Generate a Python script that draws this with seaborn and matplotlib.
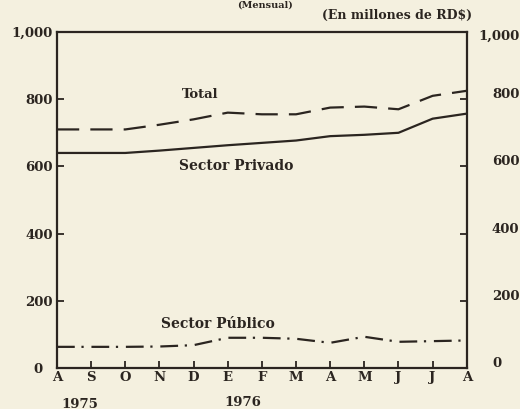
import numpy as np
import pandas as pd
import seaborn as sns
import matplotlib.pyplot as plt
from matplotlib.transforms import ScaledTranslation

# Datos mensuales (millones de RD$), agosto 1975 - agosto 1976
meses = ["A", "S", "O", "N", "D", "E", "F", "M", "A", "M", "J", "J", "A"]
total = [710, 710, 710, 724, 740, 760, 755, 755, 775, 778, 770, 810, 825]
privado = [640, 640, 640, 647, 655, 663, 670, 677, 690, 694, 700, 742, 757]
publico = [63, 63, 63, 64, 68, 90, 90, 87, 75, 93, 78, 80, 82]
y_ticks = [0, 200, 400, 600, 800, 1000]
y_labels = ["0", "200", "400", "600", "800", "1,000"]

bg = "#f4f0df"
ink = "#2b2520"
fs = 9.5

sns.set_style("ticks")
plt.rcParams["font.family"] = ["DejaVu Serif"]
plt.rcParams["font.weight"] = "bold"

df = pd.DataFrame({
    "pos": np.arange(len(meses)),
    "Total": total,
    "Sector Privado": privado,
    "Sector Público": publico,
})
long = df.melt(id_vars="pos", var_name="serie", value_name="valor")

fig = plt.figure(figsize=(5.2, 4.09), dpi=100, facecolor=bg)
ax = fig.add_axes([0.1096, 0.1002, 0.788, 0.8216], facecolor=bg)

sns.lineplot(data=long, x="pos", y="valor", hue="serie", style="serie",
             palette={"Total": ink, "Sector Privado": ink, "Sector Público": ink},
             dashes={"Total": (10, 5), "Sector Privado": "", "Sector Público": (8, 3, 1, 3.5)},
             linewidth=1.6, legend=False, ax=ax)

ax.set_xlim(0, len(meses) - 1)
ax.set_ylim(0, 1000)
ax.set_xlabel("")
ax.set_ylabel("")
ax.set_xticks(range(len(meses)))
ax.set_xticklabels(meses)
ax.set_yticks(y_ticks)
ax.set_yticklabels(y_labels)
ax.tick_params(axis="both", direction="in", length=5, width=1.3, colors=ink,
               labelsize=fs, labelcolor=ink)
ax.tick_params(axis="y", right=True, labelright=True, pad=3)
ax.tick_params(axis="x", pad=2)
for i, t in enumerate(ax.yaxis.get_major_ticks()):
    t.label2.set_horizontalalignment("right")
    if i == 0:
        # el "0" derecho queda mas cerca del eje en el original
        t.label2.set_x(1.075)
        t.label1.set_x(-0.025)
    else:
        t.label2.set_x(1.118)
    dy = -3 if i == len(y_ticks) - 1 else 6
    t.label2.set_transform(t.label2.get_transform()
                           + ScaledTranslation(0, dy / 100, fig.dpi_scale_trans))
for s in ax.spines.values():
    s.set_color(ink)
    s.set_linewidth(1.6)

ax.text(4.2, 815, "Total", fontsize=fs, fontweight="bold", color=ink, ha="center", va="center")
ax.text(5.25, 600, "Sector Privado", fontsize=fs + 0.5, fontweight="bold", color=ink,
        ha="center", va="center")
ax.text(4.7, 132, "Sector Público", fontsize=fs + 0.5, fontweight="bold", color=ink,
        ha="center", va="center")

fig.text(80 / 520, 1 - 404 / 409, "1975", fontsize=fs, fontweight="bold", color=ink,
         ha="center", va="center")
fig.text(243 / 520, 1 - 403 / 409, "1976", fontsize=fs, fontweight="bold", color=ink,
         ha="center", va="center")
fig.text(472 / 520, 1 - 15 / 409, r"(En millones de RD\$)", fontsize=fs - 0.5, fontweight="bold",
         color=ink, ha="right", va="center")
fig.text(265 / 520, 0.999, "(Mensual)", fontsize=7, fontweight="bold", color=ink,
         ha="center", va="top")

fig.savefig("out.png", dpi=100, facecolor=bg)
